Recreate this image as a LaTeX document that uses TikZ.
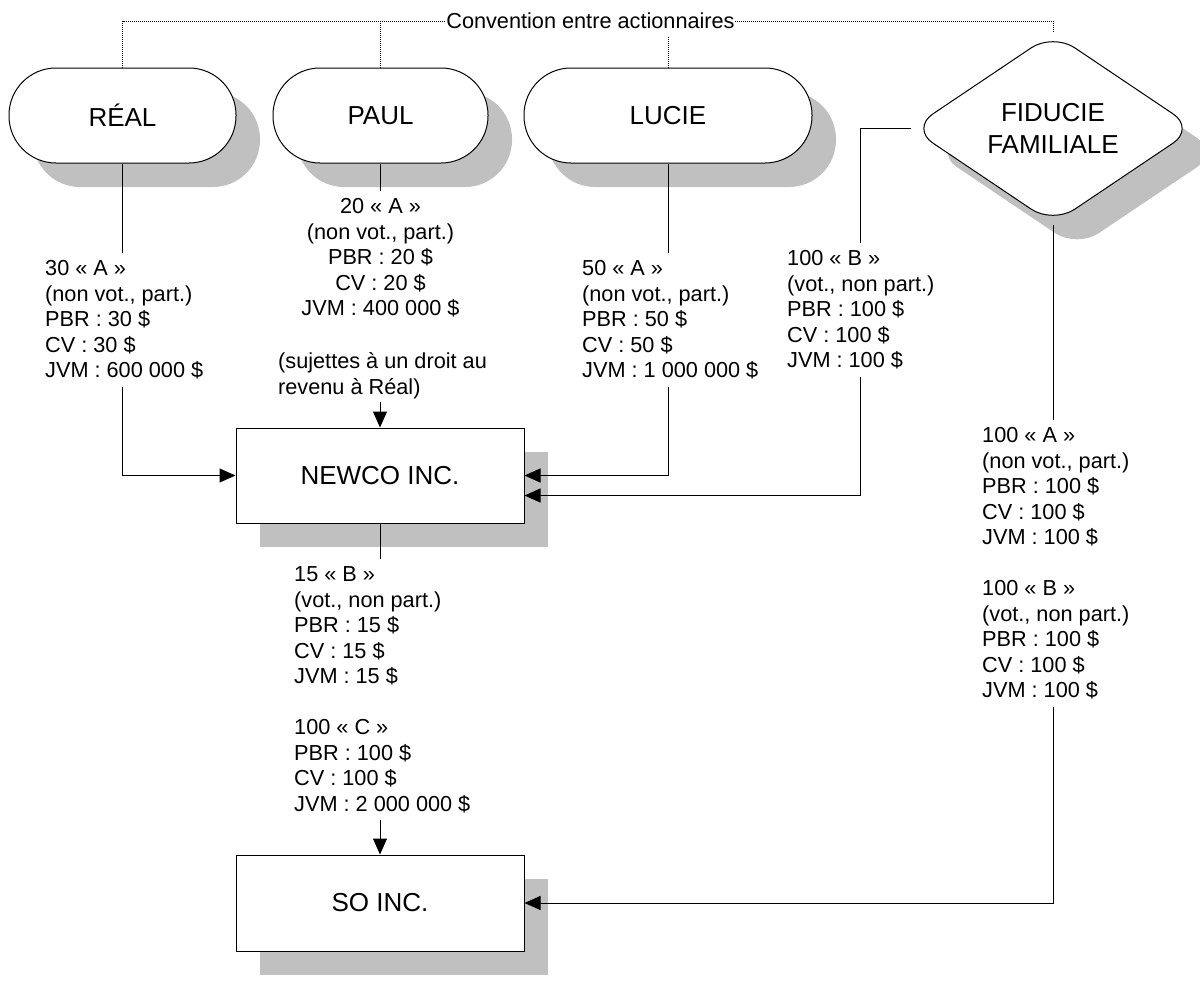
\documentclass[tikz,border=0pt]{standalone}
\usepackage{fontspec}
\setmainfont{Liberation Sans}
\usetikzlibrary{arrows.meta,shapes.geometric,shadows,calc}
\definecolor{shadegray}{RGB}{192,192,192}
\begin{document}
\begin{tikzpicture}[x=1pt,y=-1pt,
  castshadow/.style={drop shadow={shadow xshift=24pt,shadow yshift=-24pt,opacity=1,fill=shadegray,draw=none}},
  person/.style={draw,line width=1pt,fill=white,rounded corners=47pt,minimum height=95pt,
    inner sep=0pt,font=\fontsize{26}{32}\selectfont,castshadow},
  company/.style={draw,line width=1pt,fill=white,minimum width=288pt,minimum height=95pt,
    inner sep=0pt,font=\fontsize{26}{32}\selectfont,castshadow},
  trust/.style={diamond,aspect=1.5,draw,line width=1pt,fill=white,rounded corners=26pt,
    minimum width=284pt,minimum height=191pt,inner sep=0pt,align=center,
    font=\fontsize{26}{32}\selectfont,castshadow},
  info/.style={align=left,inner xsep=0pt,inner ysep=7.5pt,font=\fontsize{21.7}{25.5}\selectfont},
  link/.style={line width=1pt},
  arrowlink/.style={line width=1pt,-{Triangle[length=16pt,width=14pt]}},
  agreement/.style={line width=0.8pt,dash pattern=on 1pt off 1pt}
]
\useasboundingbox (0,0) rectangle (1200,983);
\clip (0,0) rectangle (1200,983);

% shareholders
\node[person,minimum width=227pt] (real)  at (122.5,115.5) {RÉAL};
\node[person,minimum width=215pt] (paul)  at (380.5,115.5) {PAUL};
\node[person,minimum width=288pt] (lucie) at (668,115.5)   {LUCIE};
\node[trust] (fid) at (1053,128.5) {FIDUCIE\\FAMILIALE};

% companies
\node[company] (newco) at (380,475.5) {NEWCO INC.};
\node[company,minimum height=96pt] (so) at (380,903) {SO INC.};

% shareholders' agreement
\node[font=\fontsize{21.7}{25.5}\selectfont,inner xsep=0.5pt,inner ysep=8pt] (conv) at (590.5,21)
  {Convention entre actionnaires};
\draw[agreement] (real.north) |- (conv.west);
\draw[agreement] (paul.north) -- (paul.north |- conv.west);
\draw[agreement] (lucie.north) -- (lucie.north |- conv.south);
\draw[agreement] (conv.east) -| (fid.north);

% share descriptions
\node[info,anchor=north west] (tA) at (45,253)
  {30~« A »\\(non vot., part.)\\PBR : 30 \$\\CV : 30 \$\\JVM : 600 000 \$};
\node[info,align=center,anchor=north] (tP) at (380.5,191)
  {20~« A »\\(non vot., part.)\\PBR : 20 \$\\CV : 20 \$\\JVM : 400 000 \$};
\node[info,inner ysep=3pt,anchor=north west] (tS) at (278,349.5)
  {(sujettes à un droit au\\revenu à Réal)};
\node[info,anchor=north west] (tL) at (582,253)
  {50~« A »\\(non vot., part.)\\PBR : 50 \$\\CV : 50 \$\\JVM : 1 000 000 \$};
\node[info,anchor=north west] (tFB) at (787,243)
  {100~« B »\\(vot., non part.)\\PBR : 100 \$\\CV : 100 \$\\JVM : 100 \$};
\node[info,anchor=north west] (tFA) at (982,420)
  {100~« A »\\(non vot., part.)\\PBR : 100 \$\\CV : 100 \$\\JVM : 100 \$\\[25.5pt]%
   100~« B »\\(vot., non part.)\\PBR : 100 \$\\CV : 100 \$\\JVM : 100 \$};
\node[info,anchor=north west] (tN) at (294,559)
  {15~« B »\\(vot., non part.)\\PBR : 15 \$\\CV : 15 \$\\JVM : 15 \$\\[25.5pt]%
   100~« C »\\PBR : 100 \$\\CV : 100 \$\\JVM : 2 000 000 \$};

\coordinate (newcoB) at ($(newco.east)+(0,20)$);

% holdings in NEWCO
\draw[link] (real.south) -- (real.south |- tA.north);
\draw[arrowlink] (real.south |- tA.south) |- (newco.west);
\draw[link] (paul.south) -- (paul.south |- tP.north);
\draw[arrowlink] (newco.north |- tS.south) -- (newco.north);
\draw[link] (lucie.south) -- (lucie.south |- tL.north);
\draw[arrowlink] (lucie.south |- tL.south) |- (newco.east);
\draw[link] (fid.west) -| (tFB.north);
\draw[arrowlink] (tFB.south) |- (newcoB);

% holdings in SO
\draw[link] (newco.south) -- (newco.south |- tN.north);
\draw[arrowlink] (so.north |- tN.south) -- (so.north);
\draw[link] (fid.south) -- (fid.south |- tFA.north);
\draw[arrowlink] (fid.south |- tFA.south) |- (so.east);
\end{tikzpicture}
\end{document}
